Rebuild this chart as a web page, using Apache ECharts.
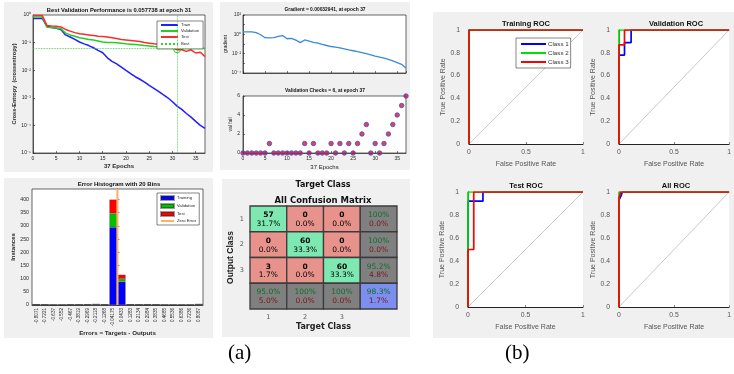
<!DOCTYPE html>
<html>
<head>
<meta charset="utf-8">
<script src="https://cdn.jsdelivr.net/npm/echarts@6/dist/echarts.min.js"></script>
<style>
html, body { margin: 0; padding: 0; background: #fff; }
#main { width: 734px; height: 374px; }
</style>
</head>
<body>
<div id="main"></div>
<script>
// ---- training performance (cross-entropy per epoch, 0..37)
const trainPerf = [0.75, 0.75, 0.75, 0.38, 0.35, 0.33, 0.3, 0.19, 0.16, 0.13, 0.105, 0.09, 0.078, 0.065, 0.052, 0.043, 0.028, 0.021, 0.017, 0.013, 0.0098, 0.0075, 0.0058, 0.0047, 0.0037, 0.0028, 0.0022, 0.0017, 0.0013, 0.001, 0.00072, 0.0005, 0.00038, 0.00027, 0.0002, 0.00014, 0.0001, 0.000078]
const valPerf = [0.85, 0.85, 0.85, 0.36, 0.35, 0.34, 0.32, 0.22, 0.19, 0.17, 0.15, 0.14, 0.13, 0.125, 0.115, 0.105, 0.1, 0.1, 0.098, 0.095, 0.09, 0.088, 0.085, 0.082, 0.078, 0.075, 0.072, 0.07, 0.068, 0.066, 0.064, 0.057738, 0.068, 0.075, 0.078, 0.075, 0.068, 0.06]
const testPerf = [0.95, 0.95, 0.95, 0.42, 0.4, 0.39, 0.37, 0.3, 0.26, 0.23, 0.21, 0.2, 0.19, 0.18, 0.17, 0.165, 0.16, 0.15, 0.14, 0.13, 0.125, 0.12, 0.115, 0.11, 0.1, 0.095, 0.09, 0.088, 0.085, 0.08, 0.07, 0.055, 0.055, 0.048, 0.055, 0.042, 0.045, 0.031]
const bestEpoch = 31
const bestPerf = 0.057738

// ---- training state
const gradient = [1.8, 1.8, 1.8, 1.5, 0.9, 0.45, 0.42, 0.45, 0.6, 0.75, 0.35, 0.38, 0.25, 0.14, 0.26, 0.2, 0.15, 0.12, 0.09, 0.07, 0.055, 0.048, 0.04, 0.032, 0.025, 0.02, 0.016, 0.013, 0.01, 0.0075, 0.0055, 0.0045, 0.0035, 0.0025, 0.0018, 0.0012, 0.0008, 0.00032941]
const valFail = [0, 0, 0, 0, 0, 0, 1, 0, 0, 0, 0, 0, 0, 0, 1, 0, 1, 0, 0, 0, 1, 0, 1, 0, 1, 0, 1, 2, 3, 0, 1, 0, 1, 2, 3, 4, 5, 6]

// ---- error histogram, 20 bins
const binLabels = ['-0.8071', '-0.7221', '-0.637', '-0.552', '-0.467', '-0.3819', '-0.2969', '-0.2118', '-0.1268', '-0.04175', '0.0433', '0.1283', '0.2134', '0.2984', '0.3835', '0.4685', '0.5536', '0.6386', '0.7236', '0.8087']
const histTrain = [1, 1, 0, 0, 1, 1, 1, 1, 1, 295, 88, 1, 1, 1, 1, 0, 0, 0, 0, 1]
const histVal = [1, 0, 0, 0, 0, 0, 0, 2, 0, 52, 11, 1, 0, 0, 0, 0, 0, 0, 0, 2]
const histTest = [0, 0, 0, 0, 0, 0, 2, 0, 1, 53, 16, 0, 0, 2, 0, 0, 0, 0, 0, 0]
const binEdges = [-0.8496, 0.8512]

// ---- confusion matrix (rows = output class, cols = target class)
const classLabels = ['1', '2', '3']
const confusion = [
    [57, 0, 0],
    [0, 60, 0],
    [3, 0, 60]
]

// ---- ROC curves [false positive rate, true positive rate]
const rocTraining = [
    [[0, 0], [0, 1], [1, 1]],
    [[0, 0], [0, 1], [1, 1]],
    [[0, 0], [0, 1], [1, 1]]
]
const rocValidation = [
    [[0, 0], [0, 0.78], [0.05, 0.78], [0.05, 0.89], [0.11, 0.89], [0.11, 1], [1, 1]],
    [[0, 0], [0, 1], [1, 1]],
    [[0, 0], [0, 0.87], [0.05, 0.87], [0.05, 1], [1, 1]]
]
const rocTest = [
    [[0, 0], [0, 0.92], [0.13, 0.92], [0.13, 1], [1, 1]],
    [[0, 0], [0, 1], [1, 1]],
    [[0, 0], [0, 0.5], [0.05, 0.5], [0.05, 1], [1, 1]]
]
const rocAll = [
    [[0, 0], [0, 0.93], [0.01, 0.95], [0.02, 0.97], [0.03, 1], [1, 1]],
    [[0, 0], [0, 1], [1, 1]],
    [[0, 0], [0, 0.95], [0.017, 0.95], [0.017, 1], [1, 1]]
]

const chart = echarts.init(document.getElementById('main'))

const SANS = 'Liberation Sans, Arial, sans-serif'
const VERD = 'DejaVu Sans, Verdana, sans-serif'
const TXT = '#262626'

const sup = { '-': '\u207b', '0': '\u2070', '1': '\u00b9', '2': '\u00b2', '3': '\u00b3', '4': '\u2074', '5': '\u2075' }
const pow10 = (v) => {
    const e = String(Math.round(Math.log10(v)))
    return '10' + e.split('').map(ch => sup[ch]).join('')
}

// confusion matrix cells incl. margins
const total = confusion.flat().reduce((a, b) => a + b, 0)
const pct = (v) => Math.abs(v - 1) < 1e-9 ? '100%' : (v * 100).toFixed(1) + '%'
const cmCells = []
for (let r = 0; r < 3; r++) {
    for (let c = 0; c < 3; c++) {
        const n = confusion[r][c]
        cmCells.push({ value: [c, r], kind: r === c ? 'hit' : 'miss', top: String(n), bottom: pct(n / total) })
    }
    const rowSum = confusion[r].reduce((a, b) => a + b, 0)
    const ok = confusion[r][r] / rowSum
    cmCells.push({ value: [3, r], kind: 'margin', top: pct(ok), bottom: pct(1 - ok) })
}
for (let c = 0; c < 3; c++) {
    const colSum = confusion.reduce((a, row) => a + row[c], 0)
    const ok = confusion[c][c] / colSum
    cmCells.push({ value: [c, 3], kind: 'margin', top: pct(ok), bottom: pct(1 - ok) })
}
const allOk = confusion.reduce((a, row, i) => a + row[i], 0) / total
cmCells.push({ value: [3, 3], kind: 'corner', top: pct(allOk), bottom: pct(1 - allOk) })

const cellFill = { hit: '#7de8b2', miss: '#e8928c', margin: '#808080', corner: '#7c8ff0' }

function renderCell (params, api) {
    const cell = cmCells[params.dataIndex]
    const p = api.coord([api.value(0), api.value(1)])
    const s = api.size([1, 1])
    const plain = cell.kind === 'hit' || cell.kind === 'miss'
    return {
        type: 'group',
        children: [{
            type: 'rect',
            shape: { x: p[0] - s[0] / 2, y: p[1] - s[1] / 2, width: s[0], height: s[1] },
            style: { fill: cellFill[cell.kind], stroke: '#3c3c3c', lineWidth: 1.3 }
        }, {
            type: 'text',
            x: p[0],
            y: p[1] - s[1] * 0.14,
            style: {
                text: cell.top, align: 'center', verticalAlign: 'middle',
                fill: plain ? '#000' : '#0f6e2a', fontSize: 7.5, fontFamily: VERD,
                fontWeight: plain ? 'bold' : 'normal'
            }
        }, {
            type: 'text',
            x: p[0],
            y: p[1] + s[1] * 0.2,
            style: {
                text: cell.bottom, align: 'center', verticalAlign: 'middle',
                fill: plain ? '#000' : '#7a1616', fontSize: 7.5, fontFamily: VERD
            }
        }]
    }
}

// shared axis helpers
const tickStyle = { show: true, inside: true, length: 2, lineStyle: { color: TXT, width: 0.6 } }
const lineAx = { show: true, lineStyle: { color: TXT, width: 0.7 } }
const epochAxis = (grid, showLabels, name, bold) => ({
    gridIndex: grid, type: 'value', min: 0, max: 37, interval: 5,
    axisLine: lineAx, axisTick: tickStyle, splitLine: { show: false },
    axisLabel: { show: showLabels, fontSize: 5, color: TXT, margin: 3, fontFamily: SANS, showMaxLabel: false },
    name: name, nameLocation: 'middle', nameGap: 10,
    nameTextStyle: { fontSize: 6, fontWeight: bold ? 'bold' : 'normal', color: TXT, fontFamily: SANS }
})

const rocGrids = [
    { left: 469, top: 30, width: 114, height: 114 },
    { left: 619, top: 30, width: 113, height: 114 },
    { left: 468, top: 192, width: 115, height: 115 },
    { left: 619, top: 192, width: 113, height: 115 }
]
const rocSets = [rocTraining, rocValidation, rocTest, rocAll]
const rocColors = ['#0000ff', '#00e000', '#ff0000']

const grids = [
    { left: 33, top: 15, width: 172, height: 138, show: true, backgroundColor: '#fff', borderColor: TXT, borderWidth: 0.7 },
    { left: 243, top: 15, width: 163, height: 58, show: true, backgroundColor: '#fff', borderColor: TXT, borderWidth: 0.7 },
    { left: 243, top: 96, width: 163, height: 57, show: true, backgroundColor: '#fff', borderColor: TXT, borderWidth: 0.7 },
    { left: 32, top: 189, width: 171, height: 116, show: true, backgroundColor: '#fff', borderColor: TXT, borderWidth: 0.7 },
    { left: 250, top: 206, width: 147, height: 103 }
].concat(rocGrids.map(g => Object.assign({ show: true, backgroundColor: '#fff', borderWidth: 0 }, g)))

const xAxes = [
    epochAxis(0, true, '37 Epochs', true),
    epochAxis(1, false, '', false),
    Object.assign(epochAxis(2, true, '37 Epochs', false), { nameGap: 11 }),
    {
        gridIndex: 3, type: 'category', data: binLabels,
        axisLine: lineAx, axisTick: { show: false },
        axisLabel: { interval: 0, rotate: 90, fontSize: 4.6, color: TXT, margin: 3, fontFamily: SANS },
        name: 'Errors = Targets - Outputs', nameLocation: 'middle', nameGap: 23,
        nameTextStyle: { fontSize: 6.2, fontWeight: 'bold', color: TXT, fontFamily: SANS }
    },
    { gridIndex: 3, type: 'value', min: binEdges[0], max: binEdges[1], show: false },
    {
        gridIndex: 4, type: 'category', data: classLabels.concat(['']),
        axisLine: { show: false }, axisTick: { show: false }, splitLine: { show: false },
        axisLabel: { fontSize: 6.5, color: '#555', margin: 5, fontFamily: VERD },
        name: 'Target Class', nameLocation: 'middle', nameGap: 14,
        nameTextStyle: { fontSize: 8, fontWeight: 'bold', color: '#222', fontFamily: VERD }
    }
].concat(rocGrids.map((g, i) => ({
    gridIndex: 5 + i, type: 'value', min: 0, max: 1, interval: 0.5,
    axisLine: { show: true, lineStyle: { color: '#222', width: 1 } },
    axisTick: { show: true, inside: true, length: 2, lineStyle: { color: '#888' } },
    splitLine: { show: false },
    axisLabel: { fontSize: 6.8, color: '#555', margin: 5, fontFamily: SANS },
    name: 'False Positive Rate', nameLocation: 'middle', nameGap: 17,
    nameTextStyle: { fontSize: 7, color: '#555', fontFamily: SANS }
})))

const yAxes = [
    {
        gridIndex: 0, type: 'log', logBase: 10, min: 1e-5, max: 1,
        axisLine: lineAx, axisTick: tickStyle, splitLine: { show: false }, minorTick: { show: false },
        axisLabel: { fontSize: 5, color: TXT, margin: 2, fontFamily: SANS, formatter: pow10 },
        name: 'Cross-Entropy  (crossentropy)', nameLocation: 'middle', nameGap: 13,
        nameTextStyle: { fontSize: 5.6, fontWeight: 'bold', color: TXT, fontFamily: SANS }
    },
    {
        gridIndex: 1, type: 'log', logBase: 10, min: 1e-4, max: 100,
        axisLine: lineAx, axisTick: tickStyle, splitLine: { show: false },
        axisLabel: {
            fontSize: 4.8, color: TXT, margin: 2, fontFamily: SANS,
            formatter: (v) => Math.round(Math.log10(v)) % 2 === 0 ? pow10(v) : ''
        },
        name: 'gradient', nameLocation: 'middle', nameGap: 11,
        nameTextStyle: { fontSize: 5, color: TXT, fontFamily: SANS }
    },
    {
        gridIndex: 2, type: 'value', min: 0, max: 6, interval: 2,
        axisLine: lineAx, axisTick: tickStyle, splitLine: { show: false },
        axisLabel: { fontSize: 5, color: TXT, margin: 3, fontFamily: SANS },
        name: 'val fail', nameLocation: 'middle', nameGap: 9,
        nameTextStyle: { fontSize: 5, color: TXT, fontFamily: SANS }
    },
    {
        gridIndex: 3, type: 'value', min: 0, max: 440, interval: 50,
        axisLine: lineAx, axisTick: tickStyle, splitLine: { show: false },
        axisLabel: { fontSize: 5.2, color: TXT, margin: 3, fontFamily: SANS, showMaxLabel: false },
        name: 'Instances', nameLocation: 'middle', nameGap: 14,
        nameTextStyle: { fontSize: 6, fontWeight: 'bold', color: TXT, fontFamily: SANS }
    },
    {
        gridIndex: 4, type: 'category', data: classLabels.concat(['']), inverse: true,
        axisLine: { show: false }, axisTick: { show: false }, splitLine: { show: false },
        axisLabel: { fontSize: 6.5, color: '#555', margin: 6, fontFamily: VERD },
        name: 'Output Class', nameLocation: 'middle', nameGap: 15,
        nameTextStyle: { fontSize: 8.5, fontWeight: 'bold', color: '#222', fontFamily: SANS }
    }
].concat(rocGrids.map((g, i) => ({
    gridIndex: 5 + i, type: 'value', min: 0, max: 1, interval: 0.2,
    axisLine: { show: true, lineStyle: { color: '#222', width: 1 } },
    axisTick: { show: false }, splitLine: { show: false },
    axisLabel: { fontSize: 6.8, color: '#555', margin: 9, fontFamily: SANS },
    name: 'True Positive Rate', nameLocation: 'middle', nameGap: 17,
    nameTextStyle: { fontSize: 7, color: '#555', fontFamily: SANS }
})))

const perfLine = (name, data, color) => ({
    name: name, type: 'line', xAxisIndex: 0, yAxisIndex: 0,
    data: data.map((v, i) => [i, v]), symbol: 'none', color: color,
    lineStyle: { color: color, width: 1.5 }
})

const histBar = { borderColor: 'rgba(40,40,40,0.45)', borderWidth: 0.5 }

const series = [
    perfLine('Train', trainPerf, '#1f1fff'),
    perfLine('Validation', valPerf, '#22d022'),
    perfLine('Test', testPerf, '#ff2a2a'),
    {
        name: 'Best', type: 'line', xAxisIndex: 0, yAxisIndex: 0,
        data: [[bestEpoch, bestPerf]], symbol: 'circle', symbolSize: 7, color: '#22d022',
        itemStyle: { color: 'rgba(0,0,0,0)', borderColor: '#22d022', borderWidth: 1 },
        lineStyle: { color: '#33cc33', type: 'dotted', width: 1 },
        markLine: {
            silent: true, symbol: 'none', label: { show: false },
            lineStyle: { color: '#33cc33', type: 'dotted', width: 0.8 },
            data: [{ xAxis: bestEpoch }, { yAxis: bestPerf }]
        }
    },
    {
        name: 'gradient', type: 'line', xAxisIndex: 1, yAxisIndex: 1,
        data: gradient.map((v, i) => [i, v]), symbol: 'none',
        lineStyle: { color: '#3a8ad6', width: 1.3 }
    },
    {
        name: 'val fail', type: 'scatter', xAxisIndex: 2, yAxisIndex: 2,
        data: valFail.map((v, i) => [i, v]), symbol: 'circle', symbolSize: 4.5,
        itemStyle: { color: '#e0102c', borderColor: '#3452d0', borderWidth: 1 }
    },
    // trailing spaces keep these legend entries apart from the performance plot's series
    {
        name: 'Training', type: 'bar', stack: 'hist', xAxisIndex: 3, yAxisIndex: 3,
        data: histTrain, color: '#0000ff', barCategoryGap: '10%', itemStyle: histBar
    },
    {
        name: 'Validation ', type: 'bar', stack: 'hist', xAxisIndex: 3, yAxisIndex: 3,
        data: histVal, color: '#00c000', itemStyle: histBar
    },
    {
        name: 'Test ', type: 'bar', stack: 'hist', xAxisIndex: 3, yAxisIndex: 3,
        data: histTest, color: '#ff0000', itemStyle: histBar
    },
    {
        name: 'Zero Error', type: 'line', xAxisIndex: 4, yAxisIndex: 3,
        data: [[0, 0], [0, 440]], symbol: 'none', color: '#ffb060',
        lineStyle: { color: '#ffb060', width: 2 }, z: 5
    },
    {
        name: 'confusion', type: 'custom', xAxisIndex: 5, yAxisIndex: 4,
        data: cmCells.map(c => c.value), renderItem: renderCell
    }
]

rocSets.forEach((set, i) => {
    series.push({
        name: 'diag', type: 'line', xAxisIndex: 6 + i, yAxisIndex: 5 + i,
        data: [[0, 0], [1, 1]], symbol: 'none', silent: true,
        lineStyle: { color: '#c8c8c8', width: 1 }
    })
    set.forEach((curve, k) => {
        series.push({
            name: 'Class ' + (k + 1), type: 'line', xAxisIndex: 6 + i, yAxisIndex: 5 + i,
            data: curve, symbol: 'none', color: rocColors[k],
            lineStyle: { color: rocColors[k], width: 1.7 }
        })
    })
})

const titleAt = (text, x, y, size, family) => ({
    text: text, left: x, top: y, textAlign: 'center', padding: 0,
    textStyle: { fontSize: size, fontWeight: 'bold', color: '#111', fontFamily: family || SANS }
})

const legendBox = {
    orient: 'vertical', selectedMode: false, backgroundColor: '#fff',
    borderColor: '#333', borderWidth: 0.6, borderRadius: 0
}
// line entries: show the stroke only, no marker dot
const lineOnly = (name) => ({ name: name, itemStyle: { opacity: 0 } })

const option = {
    animation: false,
    textStyle: { fontFamily: SANS },
    title: [
        titleAt('Best Validation Performance is 0.057738 at epoch 31', 119, 7, 5.8),
        titleAt('Gradient = 0.00032941, at epoch 37', 325, 7, 4.9),
        titleAt('Validation Checks = 6, at epoch 37', 325, 88, 4.9),
        titleAt('Error Histogram with 20 Bins', 119, 181, 6),
        titleAt('Target Class', 323, 181, 8, VERD),
        titleAt('All Confusion Matrix', 323, 196, 8.5, VERD),
        titleAt('Training ROC', 526, 20, 7.5),
        titleAt('Validation ROC', 676, 20, 7.5),
        titleAt('Test ROC', 526, 182, 7.5),
        titleAt('All ROC', 676, 182, 7.5)
    ],
    legend: [
        Object.assign({}, legendBox, {
            data: ['Train', 'Validation', 'Test', 'Best'].map(lineOnly),
            left: 157, top: 21, padding: [2, 4, 2, 3], itemGap: 2,
            itemWidth: 17, itemHeight: 5,
            textStyle: { fontSize: 4.2, color: TXT, padding: [0, 0, 0, -2] }
        }),
        Object.assign({}, legendBox, {
            data: [
                { name: 'Training', icon: 'rect' },
                { name: 'Validation ', icon: 'rect' },
                { name: 'Test ', icon: 'rect' },
                lineOnly('Zero Error')
            ],
            left: 157, top: 193, padding: [2, 3], itemGap: 2,
            itemWidth: 13, itemHeight: 4,
            textStyle: { fontSize: 4.2, color: TXT, padding: [0, 0, 0, -2] }
        }),
        Object.assign({}, legendBox, {
            data: ['Class 1', 'Class 2', 'Class 3'].map(lineOnly),
            left: 516, top: 38, padding: [3, 2, 3, 4], itemGap: 3,
            itemWidth: 25, itemHeight: 6,
            textStyle: { fontSize: 6.2, color: '#333', padding: [0, 0, 0, -3] }
        })
    ],
    grid: grids,
    xAxis: xAxes,
    yAxis: yAxes,
    series: series,
    graphic: [
        { type: 'rect', z: -10, shape: { x: 4, y: 2, width: 209, height: 170 }, style: { fill: '#f0f0f0' } },
        { type: 'rect', z: -10, shape: { x: 220, y: 2, width: 190, height: 168 }, style: { fill: '#f0f0f0' } },
        { type: 'rect', z: -10, shape: { x: 4, y: 178, width: 209, height: 160 }, style: { fill: '#f0f0f0' } },
        { type: 'rect', z: -10, shape: { x: 222, y: 179, width: 188, height: 158 }, style: { fill: '#f0f0f0' } },
        { type: 'rect', z: -10, shape: { x: 433, y: 12, width: 301, height: 326 }, style: { fill: '#f0f0f0' } },
        { type: 'text', left: 228, top: 343, style: { text: '(a)', fontSize: 21, fontFamily: 'Liberation Serif, Times New Roman, serif', fill: '#000' } },
        { type: 'text', left: 505, top: 343, style: { text: '(b)', fontSize: 21, fontFamily: 'Liberation Serif, Times New Roman, serif', fill: '#000' } }
    ]
}

chart.setOption(option)
window.addEventListener('resize', function () {
    chart.resize()
})
</script>
</body>
</html>
